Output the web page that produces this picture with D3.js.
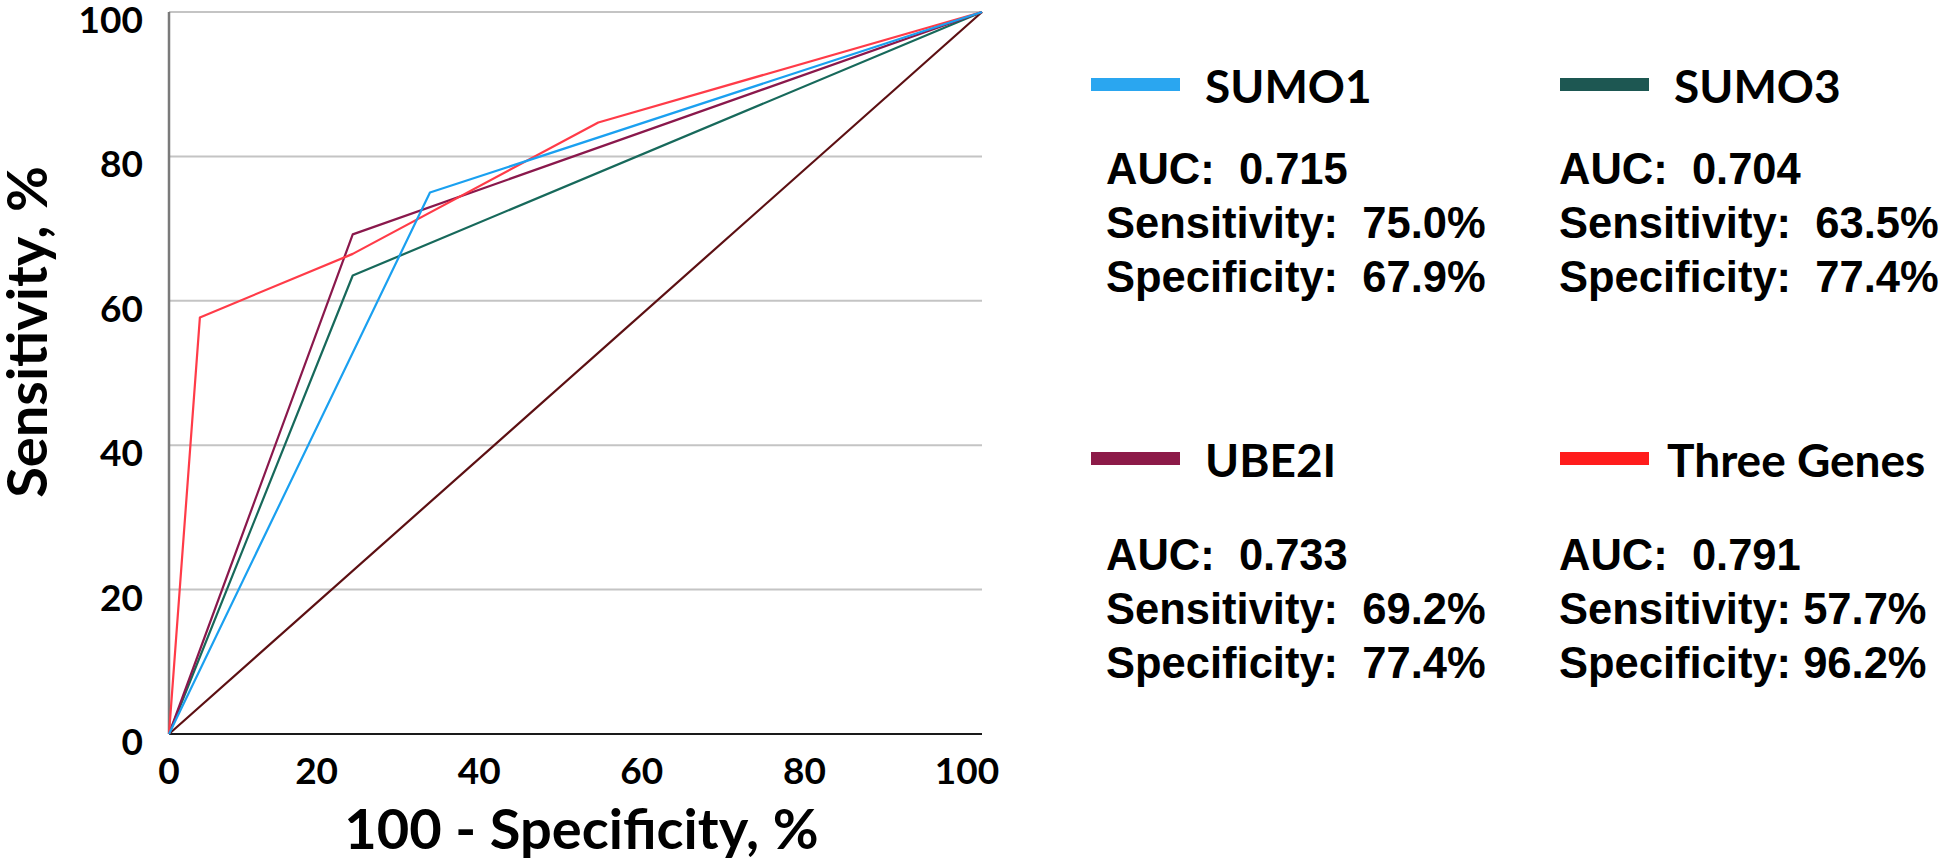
<!DOCTYPE html>
<html>
<head>
<meta charset="utf-8">
<script src="https://cdn.jsdelivr.net/npm/d3@7"></script>
<style>
  body { margin: 0; background: #fff; }
  text { white-space: pre; }
</style>
</head>
<body>
<svg id="chart"></svg>
<script>
// ROC curves: 100 - specificity (x) vs sensitivity (y), in %
const seriesNames = ["SUMO1", "SUMO3", "UBE2I", "Three Genes"];
const sumo1X = [0, 32.1, 100], sumo1Y = [0, 75.0, 100];
const sumo3X = [0, 22.6, 100], sumo3Y = [0, 63.5, 100];
const ube2iX = [0, 22.6, 100], ube2iY = [0, 69.2, 100];
const threeX = [0, 3.8, 22.6, 52.8, 100], threeY = [0, 57.7, 66.5, 84.7, 100];
const refX = [0, 100], refY = [0, 100];

const aucVals = ["0.715", "0.704", "0.733", "0.791"];
const sensVals = ["75.0%", "63.5%", "69.2%", "57.7%"];
const specVals = ["67.9%", "77.4%", "77.4%", "96.2%"];

const xTicks = [0, 20, 40, 60, 80, 100];
const yTicks = [0, 20, 40, 60, 80, 100];

const colors = ["#1aa0f0", "#17695b", "#8a184c", "#ff3b48"];
const swatchColors = ["#2aa6f0", "#1d5752", "#8c1a48", "#ff1c1c"];
const refColor = "#5c0f12";

let width = 1953, height = 862,
    plotL = 169, plotR = 982, plotT = 12, plotB = 734;

let svg = d3.select("#chart").attr("width", width).attr("height", height);

let xScale = d3.scaleLinear().domain([0, 100]).range([plotL, plotR]),
    yScale = d3.scaleLinear().domain([0, 100]).range([plotB, plotT]);

// gridlines
svg.append("g")
  .selectAll("line")
  .data(yTicks.filter(d => d > 0))
  .enter().append("line")
  .attr("x1", plotL).attr("x2", plotR)
  .attr("y1", d => yScale(d)).attr("y2", d => yScale(d))
  .attr("stroke", "#c4c4c4")
  .attr("stroke-width", 2);

// y axis line (gray) and x axis line (dark)
svg.append("line")
  .attr("x1", plotL).attr("x2", plotL).attr("y1", plotT).attr("y2", plotB)
  .attr("stroke", "#7a7a7a").attr("stroke-width", 2.5);
svg.append("line")
  .attr("x1", plotL).attr("x2", plotR).attr("y1", plotB).attr("y2", plotB)
  .attr("stroke", "#1a1a1a").attr("stroke-width", 2);

// tick labels
svg.append("g")
  .selectAll("text")
  .data(yTicks)
  .enter().append("text")
  .attr("x", plotL - 26)
  .attr("y", d => yScale(d) + 21)
  .attr("text-anchor", "end")
  .attr("font-family", "Lato")
  .attr("font-weight", "bold")
  .attr("font-size", 37)
  .text(d => d);

svg.append("g")
  .selectAll("text")
  .data(xTicks)
  .enter().append("text")
  .attr("x", d => xScale(d) - (d === 0 ? 0 : 15))
  .attr("y", plotB + 50)
  .attr("text-anchor", "middle")
  .attr("font-family", "Lato")
  .attr("font-weight", "bold")
  .attr("font-size", 37)
  .text(d => d);

// axis titles
svg.append("text")
  .attr("x", (plotL + plotR) / 2 + 6)
  .attr("y", 849)
  .attr("text-anchor", "middle")
  .attr("font-family", "Lato")
  .attr("font-weight", "bold")
  .attr("font-size", 56)
  .text("100 - Specificity, %");

svg.append("text")
  .attr("transform", "translate(47,332) rotate(-90)")
  .attr("text-anchor", "middle")
  .attr("font-family", "Lato")
  .attr("font-weight", "bold")
  .attr("font-size", 56)
  .text("Sensitivity, %");

// curves
let line = d3.line().x(d => xScale(d[0])).y(d => yScale(d[1]));
let curves = [
  { xs: refX, ys: refY, color: refColor },
  { xs: sumo3X, ys: sumo3Y, color: colors[1] },
  { xs: ube2iX, ys: ube2iY, color: colors[2] },
  { xs: threeX, ys: threeY, color: colors[3] },
  { xs: sumo1X, ys: sumo1Y, color: colors[0] }
];

svg.append("g")
  .selectAll("path")
  .data(curves)
  .enter().append("path")
  .attr("d", c => line(d3.zip(c.xs, c.ys)))
  .attr("fill", "none")
  .attr("stroke", c => c.color)
  .attr("stroke-width", 2.2)
  .attr("stroke-linejoin", "round");

// legend blocks
let colX = [1091, 1560], statX = [1106, 1559], rowY = [103, 477];
let statGap = [81, 93];
let sensSpace = ["  ", "  ", "  ", " "];

let legend = svg.append("g")
  .selectAll("g")
  .data(seriesNames)
  .enter().append("g")
  .attr("transform", (d, i) => `translate(0,${rowY[Math.floor(i / 2)]})`);

legend.append("rect")
  .attr("x", (d, i) => colX[i % 2])
  .attr("y", -25)
  .attr("width", 89)
  .attr("height", 13)
  .attr("fill", (d, i) => swatchColors[i]);

legend.append("text")
  .attr("x", (d, i) => colX[i % 2] + (i === 3 ? 107 : 114))
  .attr("y", 0)
  .attr("font-family", "Lato")
  .attr("font-weight", "bold")
  .attr("font-size", 46)
  .text(d => d);

legend.each(function (d, i) {
  let g = d3.select(this), r = Math.floor(i / 2), x = statX[i % 2];
  let lines = [
    "AUC:  " + aucVals[i],
    "Sensitivity:" + sensSpace[i] + sensVals[i],
    "Specificity:" + sensSpace[i] + specVals[i]
  ];
  g.selectAll("text.stat")
    .data(lines)
    .enter().append("text")
    .attr("class", "stat")
    .attr("x", x)
    .attr("y", (t, k) => statGap[r] + k * 54)
    .attr("font-family", "Liberation Sans")
    .attr("font-weight", "bold")
    .attr("font-size", 43.5)
    .text(t => t);
});
</script>
</body>
</html>
